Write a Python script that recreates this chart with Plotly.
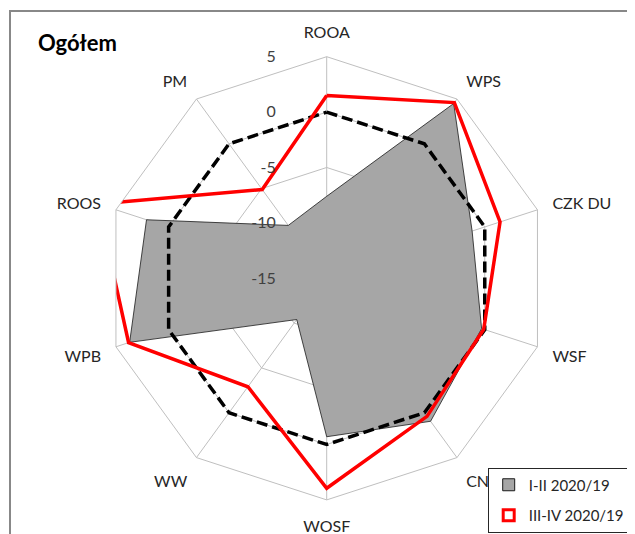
import plotly.graph_objs as go

# kategorie i wartosci
categories = ['ROOA', 'WPS', 'CZK DU', 'WSF', 'CN DU', 'WOSF', 'WW', 'WPB', 'ROOS', 'PM']
i_ii_2020 = [-7.6, 4.5, -1.2, -0.3, 0.95, -0.7, -10.4, 3.7, 2.1, -9.1]
iii_iv_2020 = [1.5, 4.6, 1.45, -0.1, 0.4, 3.95, -2.9, 3.8, 6.7, -5.1]
zero_line = [0, 0, 0, 0, 0, 0, 0, 0, 0, 0]
radial_ticks = [-15, -10, -5, 0, 5]
r_min, r_max = -15, 5


def closed(vals):
    return list(vals) + [vals[0]]


theta = closed(categories)

trace_gray = go.Scatterpolar(
    r=closed(i_ii_2020), theta=theta,
    mode='lines', fill='toself', fillcolor='#a6a6a6',
    line=dict(color='#1a1a1a', width=0.8),
    showlegend=False, cliponaxis=False, hoverinfo='skip')

trace_zero = go.Scatterpolar(
    r=closed(zero_line), theta=theta,
    mode='lines', line=dict(color='black', width=3.5, dash='11px,5px'),
    showlegend=False, cliponaxis=False, hoverinfo='skip')

trace_red = go.Scatterpolar(
    r=closed(iii_iv_2020), theta=theta,
    mode='lines', line=dict(color='#ff0000', width=3.5),
    showlegend=False, cliponaxis=False, hoverinfo='skip')

# wpisy legendy
leg_gray = go.Scatterpolar(
    r=[None], theta=[categories[0]], mode='markers', name='I-II 2020/19',
    legendgroup='a',
    marker=dict(symbol='square', size=12, color='#a6a6a6',
                line=dict(color='#1a1a1a', width=1)))
leg_red = go.Scatterpolar(
    r=[None], theta=[categories[0]], mode='markers', name='III-IV 2020/19',
    legendgroup='b',
    marker=dict(symbol='square', size=11, color='white',
                line=dict(color='#ff0000', width=3)))

data = [trace_gray, trace_zero, trace_red, leg_gray, leg_red]

# strona ma margines 8px, wiec wszystko przesuniete
OFF = 8
W, H = 635 - OFF, 534 - OFF
cx, cy, R = 326.7 - OFF, 278.3 - OFF, 221.6

# etykiety osi r: spacje na koncu przesuwaja je na lewo od osi
radial_text = [str(v) + '\u2003' * 4 for v in radial_ticks]

layout = go.Layout(
    width=W, height=H,
    margin=dict(l=0, r=0, t=0, b=0),
    paper_bgcolor='white',
    font=dict(family='Lato', size=16, color='#262626'),
    polar=dict(
        domain=dict(x=[(cx - R) / W, (cx + R) / W],
                    y=[(H - cy - R) / H, (H - cy + R) / H]),
        bgcolor='white',
        gridshape='linear',
        angularaxis=dict(
            rotation=90, direction='clockwise',
            categoryorder='array', categoryarray=categories,
            showline=True, linecolor='#bfbfbf', linewidth=1,
            gridcolor='#bfbfbf', gridwidth=1,
            ticks='outside', ticklen=12, tickcolor='rgba(0,0,0,0)',
            tickfont=dict(size=16, color='#262626')),
        radialaxis=dict(
            range=[r_min, r_max], tickvals=radial_ticks, ticktext=radial_text,
            angle=90, tickangle=90, side='counterclockwise',
            showline=False, gridcolor='#bfbfbf', gridwidth=1,
            ticks='', tickfont=dict(size=16, color='#404040'))
    ),
    legend=dict(
        x=(487.7 - OFF) / W, y=(H - (467.5 - OFF)) / H,
        xanchor='left', yanchor='top', tracegroupgap=8,
        bordercolor='#262626', borderwidth=1, bgcolor='white',
        font=dict(size=15, color='#262626'), itemsizing='trace'),
    annotations=[dict(
        text='<b>Ogółem</b>', x=(36 - OFF) / W, y=(H - (42 - OFF)) / H,
        xref='paper', yref='paper', xanchor='left', yanchor='middle',
        showarrow=False, font=dict(size=22, color='black'))],
    shapes=[dict(
        type='rect', xref='paper', yref='paper',
        x0=(10 - OFF) / W, x1=1.05, y0=-0.05, y1=(H - (11 - OFF)) / H,
        line=dict(color='#888888', width=2), layer='below')]
)

fig = go.Figure(data=data, layout=layout)
fig.write_html('out.html')
